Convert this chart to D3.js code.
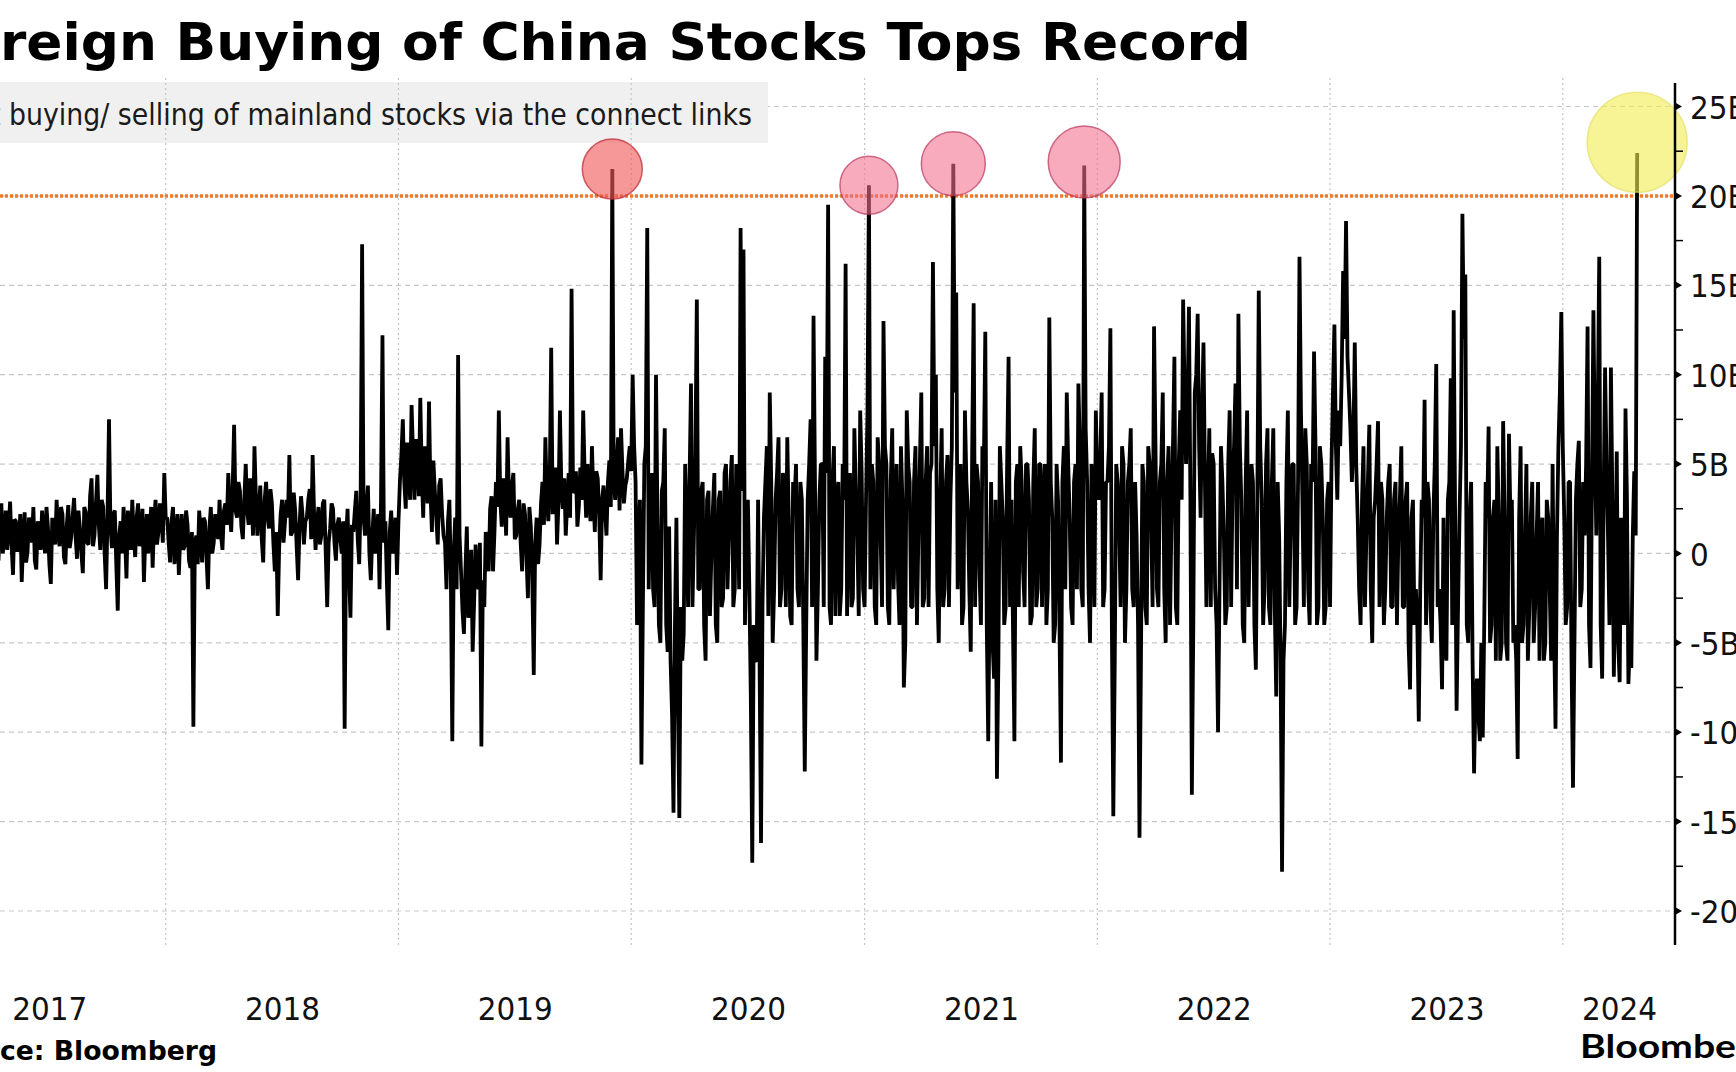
<!DOCTYPE html>
<html>
<head>
<meta charset="utf-8">
<title>Foreign Buying of China Stocks Tops Record</title>
<script src="https://cdn.jsdelivr.net/npm/d3@7"></script>
<style>
  html, body { margin: 0; padding: 0; background: #fff; overflow: hidden; }
  svg { display: block; }
  .lbl { font-family: 'DejaVu Sans Condensed', 'DejaVu Sans', sans-serif; font-stretch: condensed; font-size: 31.5px; fill: #111; }
</style>
</head>
<body>
<svg id="chart" width="1736" height="1072"></svg>
<script>
// net buying of mainland stocks via the connect links, billions of yuan
// 80 readings spread evenly over each calendar year ...
var flows2017 = [
  1.0, 2.2, 0.5, 1.8, -0.6, 2.5, 1.2, 0.3, 2.0, 1.1,
  -0.8, 1.6, 2.4, 0.4, 1.9, -0.5, 1.3, 2.6, 0.2, 1.5,
  0.8, 2.1, -0.4, 2.8, 1.0, 0.2, 2.9, -1.2, 1.8, 0.6,
  -1.6, 2.3, 0.1, 1.7, 2.6, -0.9, 1.2, 2.4, 0.0, 1.5,
  -1.7, 1.0, 3.0, 0.4, 2.2, -0.6, 2.7, 0.9, 3.1, -0.3,
  1.4, -1.1, 2.3, 0.5, 4.2, 1.0, 4.4, 0.2, 2.6, -2.0,
  7.5, 0.3, 2.4, -3.2, 1.8, 2.6, -1.4, 1.0, 3.0, -0.2,
  2.8, 0.9, -1.6, 2.2, 1.4, -0.8, 3.0, 1.2, 2.1, 4.5
];
var flows2018 = [
  2.0, -0.5, 2.6, 0.8, -1.2, 2.2, 0.4, 1.6, -0.8, -9.7,
  1.0, 2.4, -0.5, 1.8, -2.0, 2.6, 0.6, 1.5, 3.0, 0.2,
  2.8, 4.5, 1.2, 7.2, 2.0, 3.5, 0.8, 5.0, 1.6, 3.2,
  6.0, 1.0, 3.8, -0.5, 4.0, 1.4, 2.8, -1.0, -3.5, 2.2,
  0.6, 3.0, 5.5, 1.2, 2.4, -1.5, 3.2, 0.5, 2.0, 3.6,
  5.5, 0.2, 2.6, 1.0, 3.0, -3.0, 1.4, 2.5, -0.4, 2.0,
  0.0, -9.8, 2.5, -3.6, 1.2, 3.5, -0.6, 17.3, 1.0, 3.8,
  -1.5, 2.5, 0.6, -2.0, 12.2, 1.8, -4.3, 2.4, 0.5, -1.2
];
var flows2019 = [
  4.0, 7.5, 2.5, 5.0, 8.3, 3.0, 5.5, 8.7, 2.0, 4.8,
  8.5, 1.2, 3.5, 0.5, 4.2, 1.0, -2.0, 3.0, -10.5, 2.0,
  11.1, -1.0, -4.5, 1.5, -2.5, -5.5, 0.5, -2.0, -10.8, -3.0,
  0.0, 2.5, -1.0, 4.0, 8.0, 1.5, 3.5, 6.5, 2.0, 4.5,
  1.0, 3.0, -1.0, 2.2, -2.5, 1.5, -6.8, 2.0, 0.5, 4.0,
  6.5, 1.8, 11.5, 3.0, 0.5, 8.0, 2.5, 1.0, 4.5, 14.8,
  3.5, 1.5, 4.8, 8.0, 2.0, 3.2, 6.0, 1.2, 4.2, -1.5,
  3.8, 1.0, 5.2, 21.5, 3.0, 6.5, 7.0, 2.8, 4.2, 6.0
];
var flows2020 = [
  10.0, 4.0, 1.0, -11.8, 5.0, 18.2, 3.0, -2.0, 10.0, -4.0,
  3.5, 7.0, -5.5, -6.0, -14.5, 2.0, -14.8, -6.0, 5.0, -3.0,
  9.5, 1.0, 14.2, -2.0, 4.0, -6.0, 3.5, 0.0, 4.5, -5.0,
  3.5, -2.5, 5.0, 1.0, 5.5, -2.0, 4.0, 18.2, 17.0, 1.5,
  -2.0, -17.3, -6.0, 3.0, -16.2, 2.0, 6.0, 9.0, -5.0, 3.0,
  6.5, -2.0, 4.0, 6.5, -3.5, 4.0, 5.0, -3.0, 3.0, -12.2,
  3.0, 7.5, 13.3, -6.0, 3.0, 5.0, 11.0, 19.5, -4.0, 6.0,
  2.5, -3.5, 5.0, 16.2, 3.0, -3.0, 7.0, 1.0, 8.0, -2.0
];
var flows2021 = [
  3.0, 20.6, 5.0, -3.0, 6.5, 1.0, 13.0, 5.0, -4.0, 7.0,
  2.0, -1.5, 6.0, -7.5, 8.0, 4.0, -3.0, 6.0, 1.0, 9.0,
  -2.5, 6.0, 4.5, 16.3, 10.0, -5.0, 7.0, -2.0, 5.5, 3.0,
  21.8, 14.6, 3.0, -4.0, 8.0, 2.5, -5.5, 14.0, 5.0, -1.0,
  6.0, 12.4, -10.5, 4.0, -7.0, -12.6, 6.0, 2.0, -3.0, 11.0,
  3.0, -10.5, 5.0, 6.0, -1.0, 5.0, 3.0, -3.5, 7.0, -2.0,
  5.0, 3.0, -4.0, 13.2, 2.0, -4.0, 3.0, -11.7, 6.0, 9.0,
  2.0, -4.0, 5.0, 9.5, -2.0, 21.7, 4.0, -5.0, 3.0, 8.0
];
var flows2022 = [
  3.0, 9.0, -2.0, 4.0, 12.6, -14.7, 5.0, 2.0, 6.0, -5.0,
  4.0, 7.0, -3.0, 1.0, -15.9, 5.0, -3.0, 6.0, 2.0, 12.7,
  -2.0, 4.0, 9.0, -5.0, 6.0, 2.0, 11.0, -4.0, 8.0, 14.2,
  5.0, 13.8, -13.5, 9.0, 13.4, 2.0, 11.8, -3.0, 7.0, 5.6,
  -2.0, -10.0, 6.0, 1.0, -3.0, 8.0, 4.0, 9.5, 13.4, 3.0,
  -5.0, 8.0, 2.0, 4.0, -6.5, 14.7, 3.0, -2.0, 7.0, -4.0,
  7.0, -8.0, 1.0, -17.8, -4.0, 8.0, 2.0, 5.0, -3.0, 16.6,
  3.0, 7.0, -2.0, 5.0, 11.3, -4.0, 6.0, 2.0, -3.0, 4.0
];
var flows2023 = [
  5.0, 12.8, 3.0, 6.0, 15.8, 18.6, 9.0, 4.0, 11.8, 2.0,
  -4.0, 6.0, 1.0, 7.2, -5.0, 3.0, 7.4, 4.0, -4.0, 2.0,
  5.0, -3.0, 4.0, 1.0, 6.0, -3.0, 4.0, -7.6, 3.0, -2.0,
  -9.4, 3.0, 8.6, 4.0, -3.0, 2.0, 10.6, -2.0, -7.6, -5.0,
  3.0, 9.8, 13.6, -8.8, 2.0, 19.0, 15.6, -5.0, 4.0, -12.3,
  -7.0, -10.5, -10.3, 4.0, 7.1, -4.0, 3.0, 6.0, -6.0, 7.4,
  -5.0, 6.7, 3.0, -4.0, -11.5, 6.0, -4.0, 5.0, -3.0, 4.0,
  -3.0, 4.0, 1.0, -6.0, 3.0, -2.0, 5.0, -9.8, 6.0, 13.5
];
// 2024 runs from January to late April
var flows2024 = [
  2.0, -3.0, 4.0, -13.1, 3.0, 6.3, -2.0, 1.0, 12.7, -6.4,
  13.6, 1.0, 16.6, -7.0, 10.4, 1.0, 10.4, -6.9, 5.7, -7.2,
  1.5, 8.1, -7.3, -6.4, 4.6, 22.4
];

// ... and the readings that fall halfway between them
var mid2017 = [
  0.2, 1.4, 2.6, -0.3, 1.5, 0.4, 2.2, 1.7, -0.2, 2.4,
  1.0, -0.4, 1.2, 2.2, 0.3, 2.0, -0.2, 1.1, 2.3, 0.0,
  1.9, 0.3, 1.6, 0.0, 2.4, 1.3, 0.5, 1.9, 0.1, 2.2,
  0.8, -0.5, 2.0, 0.6, -0.4, 1.8, 0.2, 1.0, 2.6, -0.6,
  2.0, 0.5, 1.2, 2.6, -0.2, 1.6, 0.3, 2.1, 1.0, 2.4,
  0.0, 2.6, 0.6, 3.2, 0.4, 2.8, 1.6, 3.0, 0.0, 2.2,
  1.5, 2.2, -0.6, 1.0, 0.0, 1.0, 2.4, 0.2, 1.0, 2.0,
  0.4, 2.5, 1.0, 0.0, 2.6, 1.8, 0.5, 2.8, 0.6, 2.0
];
var mid2018 = [
  0.6, 1.8, -0.6, 2.2, 1.0, 0.2, 2.4, -0.4, 1.2, 0.5,
  -0.6, 1.2, 2.0, -0.2, 1.4, 0.0, 2.2, 0.8, 1.0, 2.4,
  1.6, 2.4, 3.6, 2.4, 4.0, 1.5, 3.0, 2.4, 4.2, 1.0,
  3.0, 2.6, 0.8, 3.0, 2.0, 3.6, 0.6, 1.2, 0.4, 3.0,
  1.8, 2.0, 1.0, 3.4, 0.4, 1.6, 2.2, 1.8, 3.0, 0.8,
  2.2, 1.6, 0.5, 2.8, 0.0, 0.6, 2.8, 0.6, 1.6, 0.8,
  1.8, 0.8, -1.0, 1.6, 2.4, 0.8, 3.0, 2.0, 2.6, 0.0,
  1.0, 0.0, 2.2, 3.0, 0.6, -1.5, 1.2, 0.0, 2.0, 1.8
];
var mid2019 = [
  5.5, 4.0, 6.2, 3.0, 5.6, 6.4, 3.2, 4.6, 6.0, 2.8,
  3.4, 5.2, 2.0, 3.8, 2.2, 0.6, 1.8, -1.2, 0.0, -2.0,
  1.0, -3.2, -1.0, -3.6, 0.2, -2.8, -1.2, 0.6, -1.5, 1.2,
  -1.0, 3.2, 1.2, 2.6, 3.0, 4.2, 1.0, 3.0, 3.8, 0.8,
  2.4, 0.6, 2.8, -0.2, 2.6, -1.4, 0.6, -0.6, 2.8, 1.6,
  3.2, 4.0, 2.2, 4.8, 2.8, 3.6, 4.2, 2.8, 2.0, 3.4,
  4.6, 2.6, 3.0, 4.4, 5.0, 1.8, 3.2, 4.6, 2.2, 3.0,
  2.4, 4.0, 2.6, 4.0, 5.0, 2.4, 4.6, 3.8, 5.2, 4.6
];
var mid2020 = [
  6.0, -4.0, 3.0, -3.0, 6.0, -2.0, 4.5, -3.0, 2.0, -5.0,
  4.0, -4.0, 1.5, -9.0, -4.0, -8.0, -3.0, -4.5, 1.5, 4.0,
  -3.0, 5.5, -2.0, 3.5, -4.0, 3.0, -3.5, 2.5, -4.0, 3.0,
  -3.0, 4.5, -2.0, 4.0, -3.0, 5.0, -2.0, 3.5, -4.0, 3.0,
  -8.0, -4.0, -6.0, -6.0, -3.0, 4.0, -3.5, 4.0, -2.0, 4.5,
  -3.0, 4.5, -3.0, 2.0, -4.0, 3.0, -2.0, 4.0, -4.0, -4.0,
  5.0, -3.0, 4.0, -2.0, 5.0, -3.0, 4.5, -3.0, 4.0, -3.5,
  4.0, -2.0, 3.0, -3.5, 4.5, -2.5, 3.5, -3.5, 4.5, -3.0
];
var mid2021 = [
  8.0, -2.0, 4.0, -4.0, 5.0, -3.0, 6.0, -3.0, 4.0, -2.0,
  5.0, -4.0, 3.0, -5.0, 5.0, -3.0, 4.0, -4.0, 5.0, -3.0,
  4.0, -3.0, 5.0, 6.0, -2.0, 3.0, -3.0, 4.0, -3.0, 6.0,
  9.0, -2.0, 5.0, -3.0, 4.0, -2.0, 6.0, -3.0, 4.0, -4.0,
  5.0, -4.0, -2.0, -5.0, 3.0, -6.0, 4.0, -4.0, 5.0, -3.0,
  -4.0, 4.0, -3.0, 4.0, -3.0, 5.0, -4.0, 4.0, -3.0, 5.0,
  -3.0, 5.0, -2.0, 4.0, -5.0, 5.0, -4.0, 4.0, -2.0, 5.0,
  -3.0, 4.0, -2.0, 6.0, -3.0, 7.0, -2.0, 5.0, -3.0, 4.0
];
var mid2022 = [
  5.0, -3.0, 4.0, 6.0, -4.0, -6.0, 4.0, -3.0, 5.0, -2.0,
  5.0, -2.0, 4.0, -4.0, -6.0, 4.0, -4.0, 5.0, -3.0, 6.0,
  -3.0, 5.0, -2.0, 4.0, -4.0, 6.0, -3.0, 5.0, 3.0, 9.0,
  8.0, 3.0, -4.0, 10.0, 6.0, 8.0, 4.0, 3.0, -3.0, 5.0,
  -4.0, -2.0, 4.0, -4.0, 5.0, -3.0, 6.0, -2.0, 6.0, -4.0,
  4.0, -3.0, 5.0, -4.0, 3.0, 6.0, -4.0, 5.0, -3.0, 4.0,
  -3.0, 4.0, -6.0, -6.0, 4.0, -3.0, 5.0, -4.0, 4.0, 8.0,
  -3.0, 5.0, -4.0, 4.0, 6.0, -3.0, 5.0, -4.0, 3.0, -3.0
];
var mid2023 = [
  9.0, 6.0, 8.0, 10.0, 12.0, 11.0, 7.0, 6.0, 5.0, -2.0,
  3.0, -3.0, 4.0, -2.0, 2.0, 5.0, -3.0, 3.0, -2.0, 4.0,
  -3.0, 3.0, -4.0, 3.0, -3.0, 3.0, -5.0, 2.0, -4.0, -4.0,
  -2.0, 2.0, -4.0, 3.0, -5.0, 5.0, -3.0, -4.0, 2.0, -6.0,
  4.0, -4.0, 2.0, -3.0, 6.0, 12.0, -4.0, 2.0, -6.0, -8.0,
  -9.0, -5.0, -4.0, 2.0, -5.0, 2.0, -6.0, 2.0, -5.0, 2.0,
  -6.0, 2.0, -5.0, -6.0, 2.0, -5.0, 1.0, -6.0, 2.0, -5.0,
  1.0, -6.0, 2.0, -5.0, 2.0, -6.0, -4.0, 1.0, 9.0, 6.0
];
var mid2024 = [
  -4.0, 4.0, -6.0, -5.0, 5.0, -3.0, 4.0, 5.0, -4.0, 4.0,
  6.0, 8.0, -4.0, 3.0, 5.0, -4.0, 3.0, -2.0, -5.0, 2.0,
  -4.0, 3.0, -5.0, 1.0, 1.0
];

var years = [2017, 2018, 2019, 2020, 2021, 2022, 2023, 2024];
var flowsByYear = [flows2017, flows2018, flows2019, flows2020, flows2021, flows2022, flows2023, flows2024];
var midByYear = [mid2017, mid2018, mid2019, mid2020, mid2021, mid2022, mid2023, mid2024];
var yearLabels = ["2017", "2018", "2019", "2020", "2021", "2022", "2023", "2024"];
var samplesPerYear = 80;

var yTicks = [-20, -15, -10, -5, 0, 5, 10, 15, 20, 25];
var yTickLabels = ["-20B", "-15B", "-10B", "-5B", "0", "5B", "10B", "15B", "20B", "25B"];
var recordLevel = 20;

// record days that are ringed: year, position in that year's list, ring centre (B)
var ringYears = [2019, 2021, 2021, 2021, 2024];
var ringIndex = [73, 1, 30, 75, 25];
var ringCenters = [21.5, 20.6, 21.8, 21.9, 23.0];

var titleText = "Foreign Buying of China Stocks Tops Record";
var subtitleText = "Net buying/ selling of mainland stocks via the connect links";
var sourceText = "Source: Bloomberg";

// ---------------------------------------------------------------
function sampleDate(year, pos) {
  var start = Date.UTC(year, 0, 1);
  var len = (Date.UTC(year + 1, 0, 1) - start) / samplesPerYear;
  return new Date(start + pos * len);
}

var points = [];
years.forEach(function(yr, k) {
  flowsByYear[k].forEach(function(v, i) {
    points.push({ date: sampleDate(yr, i + 0.5), value: v });
  });
  midByYear[k].forEach(function(v, i) {
    points.push({ date: sampleDate(yr, i + 1), value: v });
  });
});
points.sort(function(a, b) { return a.date - b.date; });

var plotRight = 1675;
var x = d3.scaleUtc()
  .domain([new Date(Date.UTC(2017, 0, 1)), new Date(Date.UTC(2024, 5, 25))])
  .range([-67, plotRight]);
var y = d3.scaleLinear().domain([-20, 25]).range([911, 106.5]);

var svg = d3.select("#chart");

// horizontal grid
svg.append("g").selectAll("line")
  .data(yTicks)
  .enter().append("line")
  .attr("x1", 0).attr("x2", plotRight)
  .attr("y1", function(d) { return y(d); })
  .attr("y2", function(d) { return y(d); })
  .attr("stroke", "#c8c8c8")
  .attr("stroke-width", 1.2)
  .attr("stroke-dasharray", "5,4");

// legend box
svg.append("rect")
  .attr("x", -10).attr("y", 82)
  .attr("width", 778).attr("height", 61)
  .attr("fill", "#f0f0f0");

// vertical grid at each new year
var yearStarts = years.slice(1).map(function(yr) { return new Date(Date.UTC(yr, 0, 1)); });
svg.append("g").selectAll("line")
  .data(yearStarts)
  .enter().append("line")
  .attr("x1", function(d) { return x(d); })
  .attr("x2", function(d) { return x(d); })
  .attr("y1", 78).attr("y2", 946)
  .attr("stroke", "#c4c4c4")
  .attr("stroke-width", 1.2)
  .attr("stroke-dasharray", "2,3");

// record line
svg.append("line")
  .attr("x1", 0).attr("x2", plotRight)
  .attr("y1", y(recordLevel)).attr("y2", y(recordLevel))
  .attr("stroke", "#ef7a2a")
  .attr("stroke-width", 3.5)
  .attr("stroke-dasharray", "3,2");

// flows
var line = d3.line()
  .x(function(d) { return x(d.date); })
  .y(function(d) { return y(d.value); });

svg.append("path")
  .datum(points)
  .attr("d", line)
  .attr("fill", "none")
  .attr("stroke", "#000")
  .attr("stroke-width", 3.8)
  .attr("stroke-linejoin", "bevel");

// rings
var ringStyle = [
  { r: 30, fill: "rgba(242,88,88,0.62)", stroke: "rgba(190,45,60,0.75)" },
  { r: 29, fill: "rgba(242,110,140,0.58)", stroke: "rgba(185,55,95,0.7)" },
  { r: 32, fill: "rgba(242,110,140,0.58)", stroke: "rgba(185,55,95,0.7)" },
  { r: 36, fill: "rgba(242,110,140,0.58)", stroke: "rgba(185,55,95,0.7)" },
  { r: 50, fill: "rgba(242,236,80,0.6)", stroke: "rgba(225,220,90,0.6)" }
];
svg.append("g").selectAll("circle")
  .data(ringYears)
  .enter().append("circle")
  .attr("cx", function(d, i) { return x(sampleDate(d, ringIndex[i] + 0.5)); })
  .attr("cy", function(d, i) { return y(ringCenters[i]); })
  .attr("r", function(d, i) { return ringStyle[i].r; })
  .attr("fill", function(d, i) { return ringStyle[i].fill; })
  .attr("stroke", function(d, i) { return ringStyle[i].stroke; })
  .attr("stroke-width", 1.5);

// right axis
var yAxisG = svg.append("g").attr("transform", "translate(" + plotRight + ",0)");
yAxisG.append("line")
  .attr("x1", 0).attr("x2", 0)
  .attr("y1", 83).attr("y2", 945)
  .attr("stroke", "#000").attr("stroke-width", 2.5);

var minorTicks = yTicks.slice(1).map(function(t) { return t - 2.5; });
yAxisG.selectAll(".minor")
  .data(minorTicks)
  .enter().append("line")
  .attr("class", "minor")
  .attr("x1", 0).attr("x2", 8)
  .attr("y1", function(d) { return y(d); })
  .attr("y2", function(d) { return y(d); })
  .attr("stroke", "#000").attr("stroke-width", 1.5);

yAxisG.selectAll(".major")
  .data(yTicks)
  .enter().append("path")
  .attr("class", "major")
  .attr("d", function(d) {
    var ty = y(d);
    return "M0," + (ty - 4) + "L7," + ty + "L0," + (ty + 4) + "Z";
  })
  .attr("fill", "#000");

var yAxis = d3.axisRight(y)
  .tickValues(yTicks)
  .tickSize(0)
  .tickPadding(15)
  .tickFormat(function(d, i) { return yTickLabels[i]; });
var yAxisLabels = svg.append("g")
  .attr("transform", "translate(" + plotRight + ",0)")
  .call(yAxis);
yAxisLabels.select(".domain").remove();
yAxisLabels.attr("font-size", null).attr("font-family", null);
yAxisLabels.selectAll("text")
  .attr("class", "lbl")
  .attr("dy", "0.37em");

// year labels, centred in each year
var domainEnd = x.domain()[1];
var yearMids = years.map(function(yr) {
  var a = Date.UTC(yr, 0, 1);
  var b = Math.min(Date.UTC(yr + 1, 0, 1), domainEnd.getTime());
  return new Date((a + b) / 2);
});
var xAxis = d3.axisBottom(x)
  .tickValues(yearMids)
  .tickSize(0)
  .tickFormat(function(d, i) { return yearLabels[i]; });
var xAxisG = svg.append("g")
  .attr("transform", "translate(0,1020)")
  .call(xAxis);
xAxisG.select(".domain").remove();
xAxisG.attr("font-size", null).attr("font-family", null);
xAxisG.selectAll("text")
  .attr("class", "lbl")
  .attr("y", 0).attr("dy", 0);

// squeeze axis labels to the reference width
var probe = svg.append("text").attr("class", "lbl").text("2018");
var labelScale = 75 / probe.node().getComputedTextLength();
probe.remove();
svg.selectAll("text.lbl").each(function() {
  var w = this.getComputedTextLength();
  d3.select(this).attr("textLength", w * labelScale).attr("lengthAdjust", "spacingAndGlyphs");
});

// text cropped at the left edge: fit the visible part between visStart and visEnd
function fitCropped(sel, hiddenCount, visStart, visEnd) {
  var node = sel.node();
  var full = node.getComputedTextLength();
  var hidden = hiddenCount ? node.getSubStringLength(0, hiddenCount) : 0;
  var k = (visEnd - visStart) / (full - hidden);
  sel.attr("x", visStart - hidden * k)
    .attr("textLength", full * k)
    .attr("lengthAdjust", "spacingAndGlyphs");
}

var title = svg.append("text")
  .attr("y", 60)
  .attr("font-family", "'DejaVu Sans', sans-serif")
  .attr("font-weight", "bold")
  .attr("font-size", 52)
  .attr("fill", "#000")
  .text(titleText);
fitCropped(title, 2, 0, 1251);

var subtitle = svg.append("text")
  .attr("y", 125)
  .attr("font-family", "'DejaVu Sans Condensed', 'DejaVu Sans', sans-serif")
  .attr("font-stretch", "condensed")
  .attr("font-size", 30)
  .attr("fill", "#1a1a1a")
  .text(subtitleText);
fitCropped(subtitle, 4, 9, 752);

var source = svg.append("text")
  .attr("y", 1060)
  .attr("font-family", "'DejaVu Sans', sans-serif")
  .attr("font-weight", "bold")
  .attr("font-size", 27)
  .attr("fill", "#000")
  .text(sourceText);
fitCropped(source, 4, 0, 217);

var logo = svg.append("text")
  .attr("x", 1580)
  .attr("y", 1058)
  .attr("font-family", "Lato, 'Open Sans', sans-serif")
  .attr("font-weight", 700)
  .attr("font-size", 32)
  .attr("fill", "#000")
  .text("Bloomberg");
var logoK = 156 / logo.node().getSubStringLength(0, 7);
logo.attr("textLength", logo.node().getComputedTextLength() * logoK)
  .attr("lengthAdjust", "spacingAndGlyphs");
</script>
</body>
</html>
